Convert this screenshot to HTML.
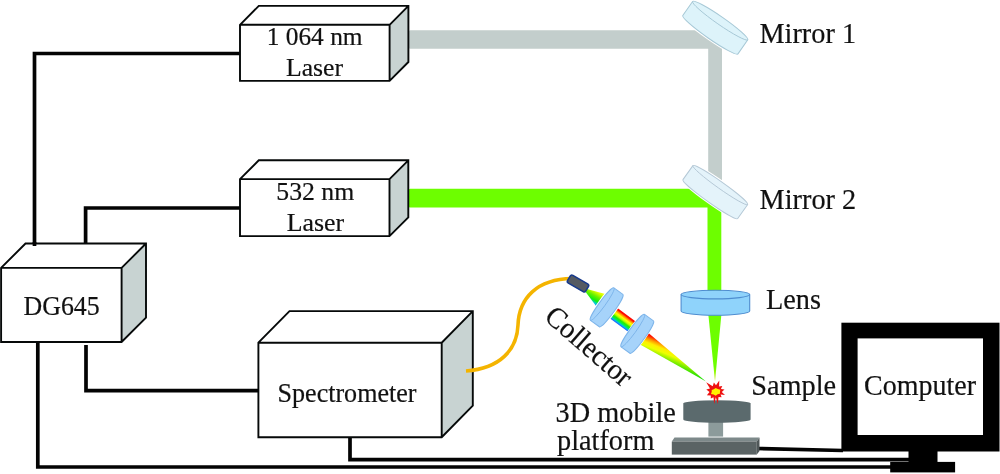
<!DOCTYPE html>
<html><head><meta charset="utf-8">
<style>
html,body{margin:0;padding:0;background:#fff;width:1000px;height:474px;overflow:hidden}
svg{display:block}
text{font-family:"Liberation Serif",serif;fill:#111;stroke:#111;stroke-width:0.2}
svg{transform:translateZ(0);will-change:transform}
</style></head><body>
<svg width="1000" height="474" viewBox="0 0 1000 474">
<defs>
  <linearGradient id="c1" gradientUnits="userSpaceOnUse" x1="596" y1="291" x2="589.5" y2="302.5">
    <stop offset="0" stop-color="#e6ff00"/>
    <stop offset="0.35" stop-color="#66f000"/>
    <stop offset="0.65" stop-color="#11ee11"/>
    <stop offset="0.85" stop-color="#00ccdd"/>
    <stop offset="1" stop-color="#0088ff"/>
  </linearGradient>
  <linearGradient id="c2" gradientUnits="userSpaceOnUse" x1="632" y1="318.9" x2="624.5" y2="329.1">
    <stop offset="0" stop-color="#ff0000"/>
    <stop offset="0.1" stop-color="#ff1100"/>
    <stop offset="0.2" stop-color="#ff8800"/>
    <stop offset="0.36" stop-color="#ffff00"/>
    <stop offset="0.5" stop-color="#bbff00"/>
    <stop offset="0.64" stop-color="#22ee00"/>
    <stop offset="0.78" stop-color="#00ee55"/>
    <stop offset="0.88" stop-color="#00bbee"/>
    <stop offset="1" stop-color="#2255ff"/>
  </linearGradient>
  <linearGradient id="c3" gradientUnits="userSpaceOnUse" x1="647.7" y1="332.5" x2="639" y2="354.1">
    <stop offset="0" stop-color="#ff0000"/>
    <stop offset="0.1" stop-color="#ff1800"/>
    <stop offset="0.25" stop-color="#ff9900"/>
    <stop offset="0.4" stop-color="#ffee00"/>
    <stop offset="0.55" stop-color="#eeff00"/>
    <stop offset="0.75" stop-color="#88ee00"/>
    <stop offset="1" stop-color="#11dd00"/>
  </linearGradient>
  <linearGradient id="gc" gradientUnits="userSpaceOnUse" x1="0" y1="308" x2="0" y2="381.5">
    <stop offset="0" stop-color="#6dfe00"/>
    <stop offset="0.8" stop-color="#6dfe00"/>
    <stop offset="1" stop-color="#c8f000"/>
  </linearGradient>
  <linearGradient id="gb" gradientUnits="userSpaceOnUse" x1="708" y1="0" x2="722" y2="0">
    <stop offset="0" stop-color="#6dfe00"/>
    <stop offset="1" stop-color="#6dfe00"/>
  </linearGradient>
</defs>

<!-- wires -->
<g fill="none" stroke="#030303" stroke-width="3.7" stroke-linejoin="miter" stroke-linecap="butt">
  <polyline points="34.5,243 34.5,53.5 240,53.5"/>
  <polyline points="85.6,244 85.6,208 240,208"/>
  <polyline points="86,345 86,390.7 259,390.7"/>
  <polyline points="37.8,342 37.8,467 892,467"/>
  <polyline points="350,437 350,459.7 910,459.7"/>
  <polyline points="757,448.5 843,450.5"/>
</g>

<!-- beams -->
<rect x="408.8" y="30.3" width="313.2" height="18.4" fill="#c3cecc" rx="1.5"/>
<rect x="708.2" y="30.2" width="13.8" height="162" fill="#c3cecc"/>
<rect x="408.6" y="188.7" width="313.4" height="18.9" fill="#6dfe00" rx="1.5"/>
<rect x="707.5" y="188.8" width="13.8" height="110" fill="#6dfe00"/>
<polygon points="707.5,306 722.2,306 715,381.5" fill="url(#gc)"/>

<!-- boxes -->
<polygon points="240,24.8 258.8,5.9 408.4,5.9 389.6,24.8" fill="#fff"/>
<polygon points="389.6,24.8 408.4,5.9 408.4,62 389.6,80.9" fill="#c8d3d2"/>
<rect x="240" y="24.8" width="149.6" height="56.1" fill="#fff"/>
<path d="M240,80.9 L240,24.8 L258.8,5.9 L408.4,5.9 L408.4,62 L389.6,80.9 Z M240,24.8 L389.6,24.8 L408.4,5.9 M389.6,24.8 L389.6,80.9" fill="none" stroke="#060909" stroke-width="1.9" stroke-linejoin="miter"/>
<polygon points="240,179.1 258.8,160.3 408.3,160.3 389.5,179.1" fill="#fff"/>
<polygon points="389.5,179.1 408.3,160.3 408.3,217.3 389.5,236.1" fill="#c8d3d2"/>
<rect x="240" y="179.1" width="149.5" height="57" fill="#fff"/>
<path d="M240,236.1 L240,179.1 L258.8,160.3 L408.3,160.3 L408.3,217.3 L389.5,236.1 Z M240,179.1 L389.5,179.1 L408.3,160.3 M389.5,179.1 L389.5,236.1" fill="none" stroke="#060909" stroke-width="1.9" stroke-linejoin="miter"/>
<polygon points="1.1,267.9 25.5,243.5 146,243.5 121.6,267.9" fill="#fff"/>
<polygon points="121.6,267.9 146,243.5 146,317.6 121.6,342" fill="#c8d3d2"/>
<rect x="1.1" y="267.9" width="120.5" height="74.1" fill="#fff"/>
<path d="M1.1,342 L1.1,267.9 L25.5,243.5 L146,243.5 L146,317.6 L121.6,342 Z M1.1,267.9 L121.6,267.9 L146,243.5 M121.6,267.9 L121.6,342" fill="none" stroke="#060909" stroke-width="1.9" stroke-linejoin="miter"/>
<polygon points="258.4,342.7 289.5,311.1 472.8,311.1 441.7,342.7" fill="#fff"/>
<polygon points="441.7,342.7 472.8,311.1 472.8,405.6 441.7,437.2" fill="#c8d3d2"/>
<rect x="258.4" y="342.7" width="183.3" height="94.5" fill="#fff"/>
<path d="M258.4,437.2 L258.4,342.7 L289.5,311.1 L472.8,311.1 L472.8,405.6 L441.7,437.2 Z M258.4,342.7 L441.7,342.7 L472.8,311.1 M441.7,342.7 L441.7,437.2" fill="none" stroke="#060909" stroke-width="1.9" stroke-linejoin="miter"/>

<line x1="34.5" y1="242" x2="34.5" y2="246" stroke="#030303" stroke-width="3.7"/>

<!-- labels -->
<g font-size="26" text-anchor="middle">
  <text transform="translate(314.6,45.4) scale(1.016,0.97)" font-size="25">1 064 nm</text>
  <text transform="translate(314.5,76.2) scale(1.02,0.96)" font-size="25.2">Laser</text>
  <text transform="translate(315.2,200.1) scale(1.017,0.975)" font-size="25.3">532 nm</text>
  <text transform="translate(315.4,231.2) scale(1.022,0.985)" font-size="25.3">Laser</text>
  <text transform="translate(61.6,314.55) scale(1.018,1.045)" font-size="25.4">DG645</text>
  <text transform="translate(347,401.6) scale(1.018,1.05)" font-size="25.6">Spectrometer</text>
</g>
<g font-size="28.3">
  <text transform="translate(759.4,43.3) scale(1,1.045)">Mirror 1</text>
  <text transform="translate(759.6,208.8) scale(1,1.045)">Mirror 2</text>
  <text transform="translate(766,308.9) scale(1,1.045)">Lens</text>
  <text transform="translate(751.3,395) scale(1,1.045)">Sample</text>
  <text transform="translate(555.6,422.1) scale(1,1.045)">3D mobile</text>
  <text transform="translate(557,450.1) scale(1,1.045)">platform</text>
</g>

<!-- mirrors -->
<g transform="translate(720.2,20.6) rotate(34.8)">
  <path d="M-33.6,0 A33.6,4 0 0 1 33.6,0 L33.6,17.2 A33.6,4 0 0 1 -33.6,17.2 Z" fill="none" stroke="#fff" stroke-width="3"/>
  <path d="M-33.6,0 A33.6,4 0 0 1 33.6,0 L33.6,17.2 A33.6,4 0 0 1 -33.6,17.2 Z" fill="#ddf3fa" stroke="#a6c8d6" stroke-width="1"/>
  <path d="M-33.6,0 A33.6,4 0 0 0 33.6,0" fill="none" stroke="#a6c8d6" stroke-width="0.9"/>
</g>
<g transform="translate(720.3,185.1) rotate(35.4)">
  <path d="M-33.6,0 A33.6,3.4 0 0 1 33.6,0 L33.6,17.2 A33.6,3.4 0 0 1 -33.6,17.2 Z" fill="none" stroke="#fff" stroke-width="3"/>
  <path d="M-33.6,0 A33.6,3.4 0 0 1 33.6,0 L33.6,17.2 A33.6,3.4 0 0 1 -33.6,17.2 Z" fill="#e4f3fa" stroke="#b4c8d6" stroke-width="1"/>
  <path d="M-33.6,0 A33.6,3.4 0 0 0 33.6,0" fill="none" stroke="#b4c8d6" stroke-width="0.9"/>
</g>

<!-- focusing lens -->
<path d="M681.1,294.6 A34.3,4.3 0 0 1 749.7,294.6 L749.7,311 A34.3,4.3 0 0 1 681.1,311 Z" fill="#8fd3fb" stroke="#4e8dd0" stroke-width="1.1"/>
<path d="M681.1,294.6 A34.3,4.3 0 0 0 749.7,294.6" fill="none" stroke="#4e8dd0" stroke-width="1.1"/>

<!-- sample stage -->
<rect x="708.4" y="420" width="14.7" height="16.6" fill="#8c9b9b"/>
<path d="M683.3,403.4 A33.65,3.2 0 0 1 750.6,403.4 L750.6,419.4 A33.65,3.4 0 0 1 683.3,419.4 Z" fill="#5b6a6d"/>
<polygon points="671.8,441.5 674.5,437.6 759.5,437.6 756.8,441.5" fill="#7d898a"/>
<polygon points="756.8,441.5 759.5,437.6 759.5,451 756.8,454.6" fill="#4f5758"/>
<rect x="671.8" y="441.5" width="85" height="13.1" fill="#5a6364"/>

<!-- rainbow beam -->
<polygon points="586.1,288.7 607,294.6 597.5,308 585.3,291.6" fill="url(#c1)"/>
<polygon points="609.4,302.1 645.7,329 638.3,339.3 601.9,312.4" fill="url(#c2)"/>
<polygon points="641.9,327.6 706,381.6 633,340.6" fill="url(#c3)"/>

<!-- fiber -->
<path d="M466,371 C500,368.5 517,350 518,325 C519,298 537,279 572,278.5" fill="none" stroke="#f4b400" stroke-width="3.6"/>
<g transform="translate(578,283.5) rotate(30)">
  <rect x="-10.5" y="-4.5" width="21" height="9" rx="2" fill="#545a62" stroke="#173a8c" stroke-width="1.6"/>
</g>

<!-- collector lenses -->
<g transform="translate(602.2,304.1) rotate(-54)">
  <path d="M-20,0 A20,3 0 0 1 20,0 L20,11 A20,3 0 0 1 -20,11 Z" fill="none" stroke="#fff" stroke-width="3"/>
  <path d="M-20,0 A20,3 0 0 1 20,0 L20,11 A20,3 0 0 1 -20,11 Z" fill="#a6d3fa" stroke="#7db4ea" stroke-width="1"/>
  <path d="M-20,0 A20,3 0 0 0 20,0" fill="none" stroke="#7db4ea" stroke-width="0.9"/>
</g>
<g transform="translate(632.8,330.6) rotate(-54)">
  <path d="M-20,0 A20,3 0 0 1 20,0 L20,11 A20,3 0 0 1 -20,11 Z" fill="none" stroke="#fff" stroke-width="2"/>
  <path d="M-20,0 A20,3 0 0 1 20,0 L20,11 A20,3 0 0 1 -20,11 Z" fill="#a6d3fa" stroke="#7db4ea" stroke-width="1"/>
  <path d="M-20,0 A20,3 0 0 0 20,0" fill="none" stroke="#7db4ea" stroke-width="0.9"/>
</g>

<!-- starburst -->
<polygon points="719.3,380.4 719.1,386.4 722.3,386.1 720.9,388.9 724.5,389.5 721.8,391.9 725.0,394.9 720.6,394.6 721.6,397.3 718.5,396.9 717.9,404.0 715.8,397.3 714.2,404.3 713.5,397.2 710.8,398.6 710.8,395.5 706.9,395.3 709.5,392.1 706.3,389.5 710.0,388.5 706.2,382.2 712.7,386.2 713.9,382.6 716.0,385.3" fill="#ee1111"/>
<polygon points="715.7,388.1 717.7,389.1 720.3,389.8 720.0,391.8 719.9,393.7 717.6,394.3 715.7,395.7 713.7,394.5 711.0,393.9 711.7,391.8 711.7,390.0 713.8,389.2" fill="#fff200"/>

<g transform="translate(543,318.8) rotate(41)">
  <text transform="translate(0,0) scale(1,1.045)" font-size="28.3">Collector</text>
</g>

<!-- Computer -->
<rect x="841.4" y="322.7" width="158.1" height="128.8" fill="#000"/>
<rect x="857.6" y="338.4" width="125.4" height="96.6" fill="#fff"/>
<rect x="908.5" y="450" width="29" height="12.5" fill="#000"/>
<rect x="890.2" y="461.9" width="64.9" height="10.5" fill="#000"/>
<text transform="translate(920,394.8) scale(1,1.045)" font-size="28" text-anchor="middle">Computer</text>

</svg>
</body></html>
